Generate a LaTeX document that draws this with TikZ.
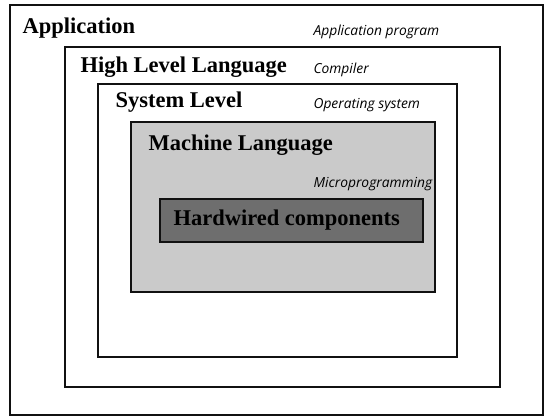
\documentclass[tikz,border=0pt]{standalone}
\usepackage{fontspec}
\setmainfont{Liberation Serif}
\newfontfamily\notafont{Open Sans}
\usepackage{tikz}
\usetikzlibrary{positioning}
\usepackage{xcolor}
\definecolor{capaBorde}{HTML}{111111}
\definecolor{capaClara}{HTML}{CACACA}
\definecolor{capaOscura}{HTML}{6E6E6E}

\begin{document}
\begin{tikzpicture}[x=1pt, y=-1pt, line width=1.1pt,
    nivel/.style={anchor=base west, inner sep=0pt, font=\fontsize{22.5}{24}\selectfont\bfseries},
    herramienta/.style={anchor=base west, inner sep=0pt, font=\notafont\itshape\fontsize{13.8}{15}\selectfont}]
        \useasboundingbox (0,0) rectangle (548,417);
        % Capas anidadas: izq/arriba/der/abajo/relleno
        \foreach \xa/\ya/\xb/\yb/\relleno in {%
          10/5/543/415/white,
          65/47/500/387/white,
          98/84/457/357/white,
          131/122/435/292/capaClara%
        } {
          \draw[capaBorde, fill=\relleno] (\xa,\ya) rectangle (\xb,\yb);
        }
        \draw[capaBorde, line width=1.6pt, fill=capaOscura] (160,199) rectangle (423,242);
        % Nombre de cada nivel
        \foreach \nombre/\x/\y/\texto in {%
          app/22/34/Application,
          hll/80/73/{High Level Language},
          sys/115/107/{System Level},
          maq/148/150/{Machine Language},
          hw/173/225/{Hardwired components}%
        } {
          \node[nivel] (\nombre) at (\x,\y) {\texto};
        }
        % Herramienta que traduce a cada nivel
        \foreach \nombre/\y/\texto in {%
          appProg/36/{Application program},
          comp/74/Compiler,
          os/108/{Operating system},
          micro/187/Microprogramming%
        } {
          \node[herramienta] (\nombre) at (313,\y) {\texto};
        }
      \end{tikzpicture}
\end{document}
